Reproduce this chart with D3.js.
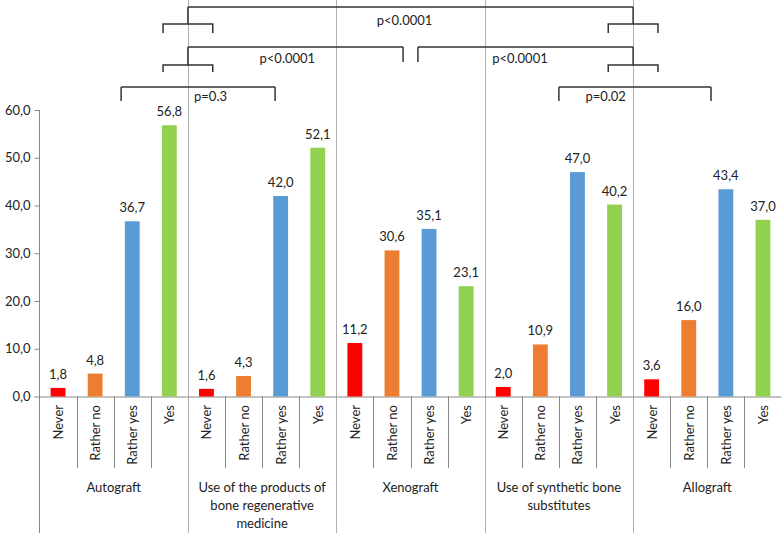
<!DOCTYPE html>
<html><head><meta charset="utf-8">
<script src="https://cdn.jsdelivr.net/npm/d3@7"></script>
<style>body{margin:0;background:#fff}svg{display:block}text{font-family:Lato,"Open Sans",sans-serif;fill:#222}</style>
</head><body><svg id="c" width="782" height="533"></svg>
<script>
const groupLines = [["Autograft"],["Use of the products of","bone regenerative","medicine"],["Xenograft"],["Use of synthetic bone","substitutes"],["Allograft"]];
const answers = ["Never","Rather no","Rather yes","Yes"];
const neverVals = [1.8,1.6,11.2,2.0,3.6];
const ratherNoVals = [4.8,4.3,30.6,10.9,16.0];
const ratherYesVals = [36.7,42.0,35.1,47.0,43.4];
const yesVals = [56.8,52.1,23.1,40.2,37.0];
const yTicks = [0,10,20,30,40,50,60];
const colors = ["#FF0000","#ED7D31","#5B9BD5","#92D050"];
const comparisons = [
  {x0:4, x1:16, level:0, label:"p<0.0001", labelX:9.84, ends:["sub","sub"]},
  {x0:4, x1:9.8, level:1, label:"p<0.0001", labelX:6.68, ends:["sub","tick"]},
  {x0:10.2, x1:16, level:1, label:"p<0.0001", labelX:12.95, ends:["tick","sub"]},
  {x0:2.2, x1:6.35, level:2, label:"p=0.3", labelX:4.61, ends:["tick","tick"]},
  {x0:14.0, x1:18.1, level:2, label:"p=0.02", labelX:15.26, ends:["tick","tick"]}
];

const series = [neverVals, ratherNoVals, ratherYesVals, yesVals];
const data = [];
groupLines.forEach((g,gi)=>answers.forEach((a,ai)=>data.push({key:gi+"-"+ai, group:gi, answer:a, ai, value:series[ai][gi]})));

const svg = d3.select("#c");
const L = 39.5, R = 781.5;
const x = d3.scaleBand().domain(data.map(d=>d.key)).range([L,R]).paddingInner(0.6).paddingOuter(0.3);
const xu = d3.scaleLinear().domain([0,20]).range([L,R]);
const y = d3.scaleLinear().domain([0,60]).range([396.5,110]);
const fmt = v => d3.format(".1f")(v).replace(".",",");

const grid = "#B0B0B0";
// group boundary lines (full height)
[4,8,12,16].forEach(b=>{
  svg.append("line").attr("x1",Math.round(xu(b))+0.5).attr("x2",Math.round(xu(b))+0.5).attr("y1",0).attr("y2",533).attr("stroke",grid);
});
// left axis
svg.append("line").attr("x1",L).attr("x2",L).attr("y1",y(60)).attr("y2",533).attr("stroke","#888");
const yAxis = svg.append("g").attr("transform",`translate(${L},0)`)
  .call(d3.axisLeft(y).tickValues(yTicks).tickFormat(fmt).tickSize(5).tickPadding(4));
yAxis.select(".domain").remove();
yAxis.selectAll("line").attr("stroke","#888");
yAxis.selectAll("text").attr("font-size",13).attr("font-family","Lato").attr("fill","#222");
// baseline
svg.append("line").attr("x1",L).attr("x2",R).attr("y1",y(0)+0.5).attr("y2",y(0)+0.5).attr("stroke","#888");
// category separators
d3.range(1,20).filter(i=>i%4!==0).forEach(i=>{
  svg.append("line").attr("x1",Math.round(xu(i))+0.5).attr("x2",Math.round(xu(i))+0.5).attr("y1",y(0)).attr("y2",468).attr("stroke","#888");
});
// bars
svg.selectAll("rect.bar").data(data).join("rect").attr("class","bar")
  .attr("x",d=>x(d.key)).attr("width",x.bandwidth())
  .attr("y",d=>y(d.value)).attr("height",d=>y(0)-y(d.value))
  .attr("fill",d=>colors[d.ai]);
svg.selectAll("text.val").data(data).join("text").attr("class","val")
  .attr("x",d=>x(d.key)+x.bandwidth()/2).attr("y",d=>y(d.value)-9)
  .attr("text-anchor","middle").attr("font-size",13).text(d=>fmt(d.value));
// category labels
svg.selectAll("text.cat").data(data).join("text").attr("class","cat")
  .attr("transform",d=>`translate(${x(d.key)+x.bandwidth()/2+5},405) rotate(-90)`)
  .attr("text-anchor","end").attr("font-size",13).text(d=>d.answer);
// group labels
groupLines.forEach((lines,gi)=>{
  const t = svg.append("text").attr("text-anchor","middle").attr("font-size",13);
  lines.forEach((ln,li)=>t.append("tspan").attr("x",xu(gi*4+2)).attr("y",492+li*18).text(ln));
});
// brackets
const lvl = [{y:7, tick:17, sub:[24,33], ty:25},{y:47, tick:15, sub:[65,72], ty:63},{y:87, tick:14, sub:null, ty:101}];
const bc = "#333";
comparisons.forEach(c=>{
  const lv = lvl[c.level];
  const X0 = xu(c.x0), X1 = xu(c.x1);
  svg.append("line").attr("x1",X0).attr("x2",X1).attr("y1",lv.y).attr("y2",lv.y).attr("stroke",bc).attr("stroke-width",1.5);
  [X0,X1].forEach((X,i)=>{
    if(c.ends[i]==="tick"){
      svg.append("line").attr("x1",X).attr("x2",X).attr("y1",lv.y).attr("y2",lv.y+lv.tick).attr("stroke",bc).attr("stroke-width",1.5);
    } else {
      const cx = i===0?c.x0:c.x1;
      svg.append("line").attr("x1",X).attr("x2",X).attr("y1",lv.y).attr("y2",lv.sub[0]).attr("stroke",bc).attr("stroke-width",1.5);
      const s0 = xu(cx-0.67), s1 = xu(cx+0.67);
      svg.append("path").attr("d",`M${s0},${lv.sub[1]}V${lv.sub[0]}H${s1}V${lv.sub[1]}`).attr("fill","none").attr("stroke",bc).attr("stroke-width",1.5);
    }
  });
  svg.append("text").attr("x",xu(c.labelX)).attr("y",lv.ty).attr("text-anchor","middle").attr("font-size",13).text(c.label);
});
</script></body></html>
